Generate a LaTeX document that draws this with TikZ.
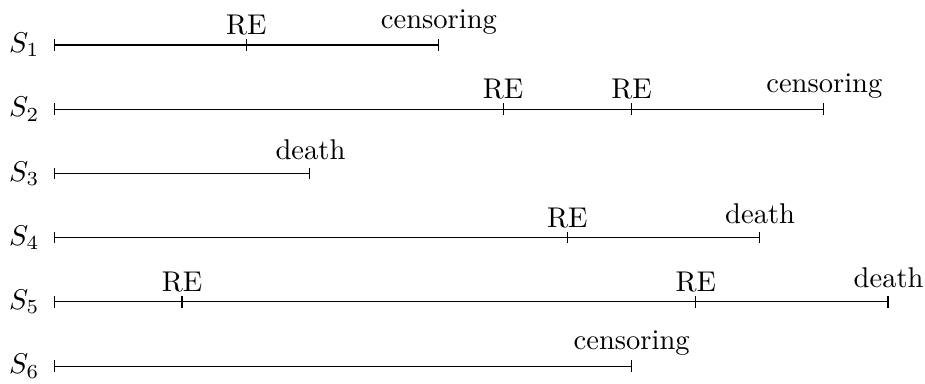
\documentclass[tikz,border=0pt]{standalone}
\usepackage{amsmath}
\usepackage{xcolor}
\usepackage{tikz}
\usetikzlibrary{arrows.meta}

\begin{document}
\begin{tikzpicture}[x=0.75pt,y=0.75pt,yscale=-1,xscale=1,
  timeline/.style={line width=0.4pt, {Bar[width=4pt]}-{Bar[width=4pt]}},
  evtick/.style={line width=0.4pt},
  subj/.style={anchor=east, inner sep=0.75pt},
  evlabel/.style={anchor=base, inner sep=0pt}]
\useasboundingbox (0,0) rectangle (432,179); %set diagram left start at 0, and has height of 179

% Points on the time lines
\coordinate (s1a) at (25,21);  \coordinate (s1r1) at (115,21); \coordinate (s1b) at (205,21);
\coordinate (s2a) at (25,51);  \coordinate (s2r1) at (235,51); \coordinate (s2r2) at (295,51); \coordinate (s2b) at (385,51);
\coordinate (s3a) at (25,81);  \coordinate (s3b) at (145,81);
\coordinate (s4a) at (25,111); \coordinate (s4r1) at (265,111); \coordinate (s4b) at (355,111);
\coordinate (s5a) at (25,141); \coordinate (s5r1) at (85,141); \coordinate (s5r2) at (325,141); \coordinate (s5b) at (415,141);
\coordinate (s6a) at (25,171); \coordinate (s6b) at (295,171);

%Straight Lines
\draw [timeline] (s1a) -- (s1b) ;
\draw [timeline] (s2a) -- (s2b) ;
\draw [timeline] (s3a) -- (s3b) ;
\draw [timeline] (s4a) -- (s4b) ;
\draw [timeline] (s5a) -- (s5b) ;
\draw [timeline] (s6a) -- (s6b) ;

%Ticks of the recurrent events
\draw [evtick] (s1r1) ++(0,-2.67) -- ++(0,5.33) ;
\draw [evtick] (s2r1) ++(0,-2.67) -- ++(0,5.33) ;
\draw [evtick] (s2r2) ++(0,-2.67) -- ++(0,5.33) ;
\draw [evtick] (s4r1) ++(0,-2.67) -- ++(0,5.33) ;
\draw [evtick] (s5r1) ++(0,-2.67) -- ++(0,5.33) ;
\draw [evtick] (s5r2) ++(0,-2.67) -- ++(0,5.33) ;

% Text Node
\node [subj] (S1) at (19.7,21)  {$S_1$};
\node [subj] (S2) at (19.7,51)  {$S_2$};
\node [subj] (S3) at (19.7,81)  {$S_3$};
\node [subj] (S4) at (19.7,111) {$S_4$};
\node [subj] (S5) at (19.7,141) {$S_5$};
\node [subj] (S6) at (19.7,171) {$S_6$};

% Text Node
\node [evlabel] (re11) at (115,16.1) {RE};
\node [evlabel] (cens1) at (205,13.3) {censoring};
% Text Node
\node [evlabel] (re21) at (235,46.1) {RE};
\node [evlabel] (re22) at (295,46.1) {RE};
\node [evlabel] (cens2) at (385,43.3) {censoring};
% Text Node
\node [evlabel] (death3) at (145,74.3) {death};
% Text Node
\node [evlabel] (re41) at (265,106.1) {RE};
\node [evlabel] (death4) at (355,104.3) {death};
% Text Node
\node [evlabel] (re51) at (85,136.1) {RE};
\node [evlabel] (re52) at (325,136.1) {RE};
\node [evlabel] (death5) at (415,134.3) {death};
% Text Node
\node [evlabel] (cens6) at (295,163.3) {censoring};

\end{tikzpicture}
\end{document}
